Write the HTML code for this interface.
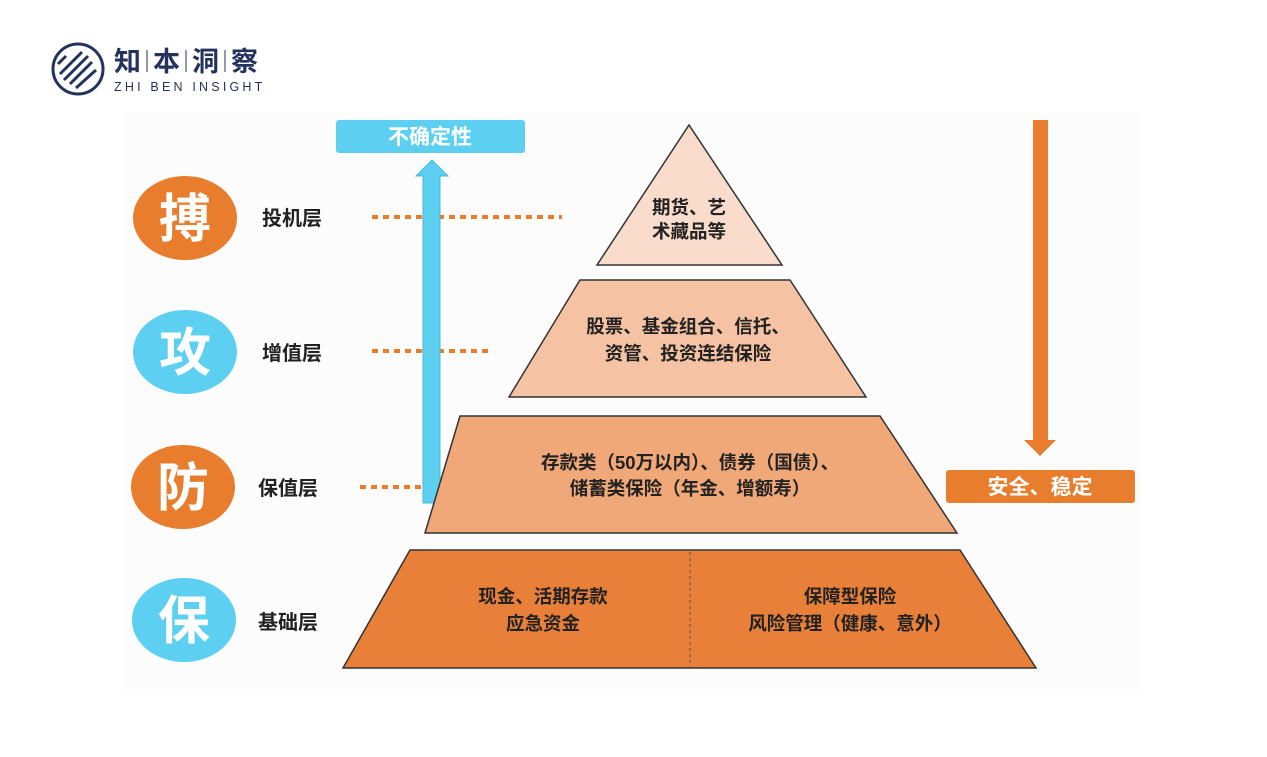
<!DOCTYPE html>
<html><head><meta charset="utf-8"><style>
body{margin:0;width:1267px;height:752px;background:#fff;overflow:hidden}
text{font-family:"Liberation Sans","Noto Sans CJK SC",sans-serif}
</style></head><body>
<svg width="1267" height="752" viewBox="0 0 1267 752">
<rect x="125" y="112" width="1015" height="578" fill="#fcfcfc"/>
<!-- logo -->
<g fill="none" stroke="#24335e" stroke-width="3">
<circle cx="78" cy="69" r="25"/>
<path d="M64 80 L88 56 M70 84 L92 62 M60 74 L82 52 M58 64 L66 56 M76 88 L96 70"/>
</g>
<text x="114" y="71" font-size="27" font-weight="bold" fill="#24335e" letter-spacing="12">知本洞察</text>
<g stroke="#24335e" stroke-width="1"><line x1="147" y1="50" x2="147" y2="72"/><line x1="186" y1="50" x2="186" y2="72"/><line x1="225" y1="50" x2="225" y2="72"/></g>
<text x="114" y="91" font-size="12.5" fill="#24335e" letter-spacing="3.2">ZHI BEN INSIGHT</text>
<!-- circles -->
<g font-size="52" font-weight="bold" fill="#fff" text-anchor="middle">
<ellipse cx="185" cy="218" rx="52" ry="42" fill="#e87d2e"/><text x="185" y="237">搏</text>
<ellipse cx="185" cy="352" rx="52" ry="42" fill="#5dcff0"/><text x="185" y="371">攻</text>
<ellipse cx="183" cy="487" rx="52" ry="42" fill="#e87d2e"/><text x="183" y="506">防</text>
<ellipse cx="184" cy="620" rx="52" ry="42" fill="#5dcff0"/><text x="184" y="639">保</text>
</g>
<g font-size="20" font-weight="bold" fill="#222">
<text x="262" y="225">投机层</text><text x="262" y="360">增值层</text>
<text x="258" y="495">保值层</text><text x="258" y="629">基础层</text>
</g>
<g stroke="#e87d2e" stroke-width="4" stroke-dasharray="6,5">
<line x1="372" y1="217" x2="562" y2="217"/>
<line x1="372" y1="351" x2="490" y2="351"/>
<line x1="360" y1="487" x2="425" y2="487"/>
</g>
<!-- blue arrow -->
<rect x="336" y="120" width="189" height="33" rx="3" fill="#5dcff0"/>
<text x="430" y="144" font-size="21" font-weight="bold" fill="#fff" text-anchor="middle">不确定性</text>
<path d="M423 503 V176 H416 L432 160 L448 176 H440 V503 Z" fill="#5dcff0" stroke="#4ab8dc" stroke-width="1"/>
<!-- orange arrow -->
<path d="M1033 120 H1048 V440 H1056 L1040 456 L1024 440 H1033 Z" fill="#e87d2e"/>
<rect x="946" y="470" width="189" height="33" rx="3" fill="#e87d2e"/>
<text x="1040" y="494" font-size="21" font-weight="bold" fill="#fff" text-anchor="middle">安全、稳定</text>
<!-- pyramid -->
<g stroke="#333" stroke-width="1.5">
<polygon points="689,125 782,265 597,265" fill="#f9dccb"/>
<polygon points="580,280 790,280 866,397 509,397" fill="#f5c3a3"/>
<polygon points="460,416 880,416 957,533 425,533" fill="#f0a878"/>
<polygon points="410,550 960,550 1036,668 343,668" fill="#e8803a"/>
</g>
<line x1="690" y1="552" x2="690" y2="667" stroke="#555" stroke-width="1" stroke-dasharray="3,3"/>
<g font-size="18.5" font-weight="bold" fill="#222" text-anchor="middle">
<text x="689" y="214">期货、艺</text><text x="689" y="238">术藏品等</text>
<text x="688" y="333">股票、基金组合、信托、</text><text x="688" y="360">资管、投资连结保险</text>
<text x="690" y="469">存款类（50万以内）、债券（国债）、</text><text x="690" y="495">储蓄类保险（年金、增额寿）</text>
<text x="543" y="603">现金、活期存款</text><text x="543" y="630">应急资金</text>
<text x="850" y="603">保障型保险</text><text x="850" y="630">风险管理（健康、意外）</text>
</g>
</svg>
</body></html>
